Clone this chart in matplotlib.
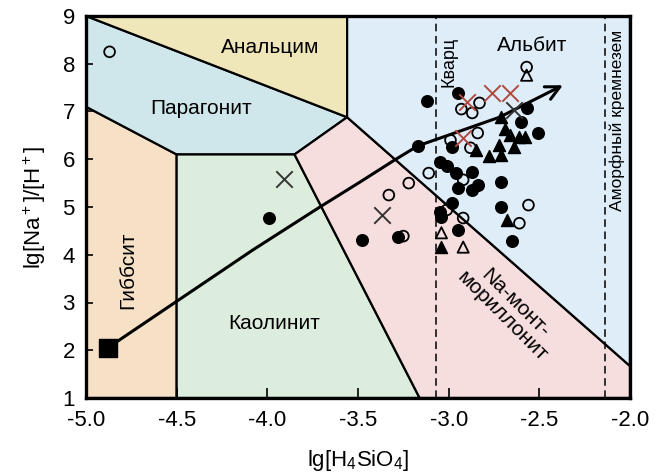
import matplotlib
matplotlib.use("Agg")
import matplotlib.pyplot as plt
from matplotlib.patches import Polygon, FancyArrowPatch
from matplotlib.path import Path

plt.rcParams['font.family'] = ['Liberation Sans', 'DejaVu Sans']
plt.rcParams['mathtext.fontset'] = 'custom'
plt.rcParams['mathtext.rm'] = 'Liberation Sans'
plt.rcParams['mathtext.it'] = 'Liberation Sans'
plt.rcParams['mathtext.default'] = 'regular'

# ---- data ----
filled_x = [-3.99, -3.48, -3.28, -3.12, -2.95, -3.17, -2.98, -2.57, -2.60, -2.51,
            -3.05, -3.01, -2.96, -2.87, -2.95, -2.87, -2.84, -2.71, -2.98, -3.05,
            -3.04, -2.71, -2.95, -2.65]
filled_y = [4.77, 4.31, 4.37, 7.22, 7.39, 6.28, 6.26, 7.07, 6.78, 6.55,
            5.94, 5.86, 5.71, 5.73, 5.40, 5.36, 5.46, 5.52, 5.08, 4.90,
            4.79, 5.00, 4.52, 4.29]

open_x = [-4.87, -2.57, -2.93, -2.87, -2.83, -2.99, -2.84, -2.88, -3.11, -2.92,
          -3.22, -3.33, -3.25, -3.01, -2.92, -2.56, -2.61]
open_y = [8.25, 7.93, 7.05, 6.97, 7.18, 6.40, 6.55, 6.24, 5.71, 5.57,
          5.50, 5.25, 4.39, 4.94, 4.77, 5.04, 4.66]

tri_open_x = [-2.57, -3.04, -2.92]
tri_open_y = [7.76, 4.46, 4.16]

tri_filled_x = [-2.68, -3.04, -2.71, -2.69, -2.66, -2.61, -2.58, -2.72, -2.64, -2.85, -2.78, -2.71]
tri_filled_y = [4.73, 4.16, 6.88, 6.63, 6.51, 6.47, 6.47, 6.30, 6.26, 6.19, 6.07, 6.09]

cross_black_x = [-3.91, -3.37, -2.64]
cross_black_y = [5.59, 4.83, 7.03]

cross_red_x = [-2.90, -2.76, -2.66, -2.92]
cross_red_y = [7.20, 7.39, 7.39, 6.45]

square_x = [-4.88]
square_y = [2.05]

# evolution arrow path
arrow_x = [-4.88, -4.49, -4.08, -3.71, -3.49, -3.30, -3.17, -2.72, -2.37]
arrow_y = [2.05, 3.05, 4.10, 5.00, 5.52, 5.98, 6.28, 6.88, 7.55]

# stability fields
fields = {
    'gibbsite':   ([-5, -4.5, -4.5, -5], [1, 1, 6.1, 7.1], '#f6e1c6'),
    'paragonite': ([-5, -4.5, -3.85, -3.56, -5], [7.1, 6.1, 6.1, 6.88, 9], '#cfe6eb'),
    'analcime':   ([-5, -3.56, -3.56], [9, 6.88, 9], '#efe6b9'),
    'kaolinite':  ([-4.5, -3.16, -3.85, -4.5], [1, 1, 6.1, 6.1], '#ddeddd'),
    'namont':     ([-3.16, -2, -2, -3.56, -3.85], [1, 1, 1.67, 6.88, 6.1], '#f6dede'),
    'albite':     ([-3.56, -2, -2, -3.56], [6.88, 1.67, 9, 9], '#deedf8'),
}

quartz_x = -3.07
amorph_x = -2.14

xticks = [-5.0, -4.5, -4.0, -3.5, -3.0, -2.5, -2.0]
yticks = [1, 2, 3, 4, 5, 6, 7, 8, 9]

# ---- figure ----
fig = plt.figure(figsize=(6.6, 4.74), dpi=100)
ax = fig.add_axes([86/660, 1-398/474, (630-86)/660, (398-16)/474])
ax.set_xlim(-5, -2)
ax.set_ylim(1, 9)

for name, (px, py, col) in fields.items():
    ax.add_patch(Polygon(list(zip(px, py)), closed=True, facecolor=col,
                         edgecolor='black', linewidth=1.6, zorder=1))

ax.axvline(quartz_x, color='black', linestyle=(0, (5, 3)), linewidth=1.1, zorder=2)
ax.axvline(amorph_x, color='black', linestyle=(0, (5, 3)), linewidth=1.1, zorder=2)

# arrow
path = Path(list(zip(arrow_x, arrow_y)))
arr = FancyArrowPatch(path=path, arrowstyle='->,head_length=10,head_width=5',
                      color='black', linewidth=2.2, zorder=3, joinstyle='round')
ax.add_patch(arr)

ax.scatter(square_x, square_y, marker='s', s=150, color='black', zorder=5)
ax.scatter(filled_x, filled_y, marker='o', s=70, color='black', zorder=4)
ax.scatter(open_x, open_y, marker='o', s=60, facecolor='none', edgecolor='black',
           linewidth=1.3, zorder=4)
ax.scatter(tri_filled_x, tri_filled_y, marker='^', s=75, color='black', zorder=4)
ax.scatter(tri_open_x, tri_open_y, marker='^', s=65, facecolor='none',
           edgecolor='black', linewidth=1.3, zorder=4)
ax.scatter(cross_red_x, cross_red_y, marker='x', s=140, color='#b04a40',
           linewidth=1.4, zorder=4)
ax.scatter(cross_black_x, cross_black_y, marker='x', s=140, color='#333333',
           linewidth=1.4, zorder=4)

fs = 15
ax.text(-3.985, 8.33, 'Анальцим', fontsize=fs, ha='center', va='center', zorder=6)
ax.text(-4.366, 7.07, 'Парагонит', fontsize=fs, ha='center', va='center', zorder=6)
ax.text(-4.77, 3.68, 'Гиббсит', fontsize=fs, ha='center', va='center', rotation=90, zorder=6)
ax.text(-3.96, 2.57, 'Каолинит', fontsize=fs, ha='center', va='center', zorder=6)
ax.text(-2.54, 8.39, 'Альбит', fontsize=fs, ha='center', va='center', zorder=6)
ax.text(-3.0, 8.04, 'Кварц', fontsize=13, ha='center', va='center', rotation=90, zorder=6)
ax.text(-2.07, 6.82, 'Аморфный кремнезем', fontsize=12.5, ha='center', va='center',
        rotation=90, zorder=6)
ax.text(-2.67, 2.85, 'Na-монт-\nмориллонит', fontsize=fs, ha='center', va='center',
        rotation=-45, linespacing=1.0, zorder=6, rotation_mode='anchor')

ax.set_xticks(xticks)
ax.set_xticklabels([f'{v:.1f}' for v in xticks])
ax.set_yticks(yticks)
ax.tick_params(axis='both', direction='in', labelsize=16, width=1.2)
ax.tick_params(axis='x', length=7, pad=9)
ax.tick_params(axis='y', length=5, pad=8)
for s in ax.spines.values():
    s.set_linewidth(2.4)
    s.set_zorder(7)

ax.set_xlabel('lg[H$_4$SiO$_4$]', fontsize=16, labelpad=12)
ax.set_ylabel('lg[Na$^+$]/[H$^+$]', fontsize=16, labelpad=10)

fig.savefig('out.png', dpi=100)
